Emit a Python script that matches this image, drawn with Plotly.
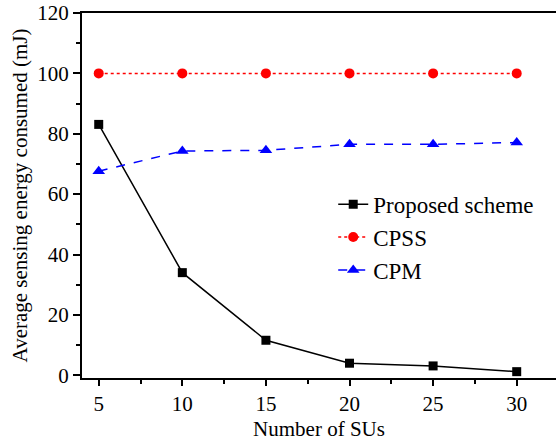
import plotly.graph_objects as go

# Number of secondary users
num_sus = [5, 10, 15, 20, 25, 30]

# Average sensing energy consumed (mJ)
proposed = [83.1, 34.0, 11.6, 4.0, 3.1, 1.2]
cpss = [100, 100, 100, 100, 100, 100]
cpm = [67.6, 74.3, 74.5, 76.5, 76.5, 77.1]

FONT = "Liberation Serif"

fig = go.Figure()
fig.add_trace(go.Scatter(
    x=num_sus, y=proposed, name="Proposed scheme", mode="lines+markers",
    line=dict(color="black", width=1.5, dash="solid"),
    marker=dict(symbol="square", size=9, color="black"),
))
fig.add_trace(go.Scatter(
    x=num_sus, y=cpss, name="CPSS", mode="lines+markers",
    line=dict(color="#FF0000", width=1.5, dash="dot"),
    marker=dict(symbol="circle", size=10, color="#FF0000"),
))
fig.add_trace(go.Scatter(
    x=num_sus, y=cpm, name="CPM", mode="lines+markers",
    line=dict(color="#0000FF", width=1.5, dash="dash"),
    marker=dict(symbol="triangle-up", size=11, color="#0000FF"),
))

fig.update_layout(
    width=556, height=443,
    margin=dict(l=82, r=0, t=13, b=65),
    paper_bgcolor="white", plot_bgcolor="white",
    font=dict(family=FONT, size=21, color="black"),
    showlegend=True,
    legend=dict(
        x=0.53, y=0.535, xanchor="left", yanchor="top",
        font=dict(family=FONT, size=23, color="black"),
        bgcolor="rgba(0,0,0,0)", borderwidth=0,
        tracegroupgap=0, itemwidth=30,
    ),
)

fig.update_xaxes(
    range=[4, 32.35], tickmode="linear", tick0=5, dtick=5,
    showline=True, linecolor="black", linewidth=2, mirror=True,
    ticks="outside", ticklen=6, tickwidth=1.5, tickcolor="black",
    minor=dict(ticks="outside", ticklen=4, tickwidth=1.5, tickcolor="black", dtick=2.5, tick0=5),
    showgrid=False, zeroline=False,
    tickfont=dict(family=FONT, size=21),
    title=dict(text="Number of SUs", font=dict(family=FONT, size=21), standoff=6),
)
fig.update_yaxes(
    range=[-0.9, 120], tickmode="linear", tick0=0, dtick=20,
    showline=True, linecolor="black", linewidth=2, mirror=False,
    ticks="outside", ticklen=7, tickwidth=1.5, tickcolor="black",
    minor=dict(ticks="outside", ticklen=4, tickwidth=1.5, tickcolor="black", dtick=10, tick0=0),
    showgrid=False, zeroline=False,
    tickfont=dict(family=FONT, size=21),
    title=dict(text="Average sensing energy consumed (mJ)", font=dict(family=FONT, size=21), standoff=4),
)

fig.write_html("out.html")
